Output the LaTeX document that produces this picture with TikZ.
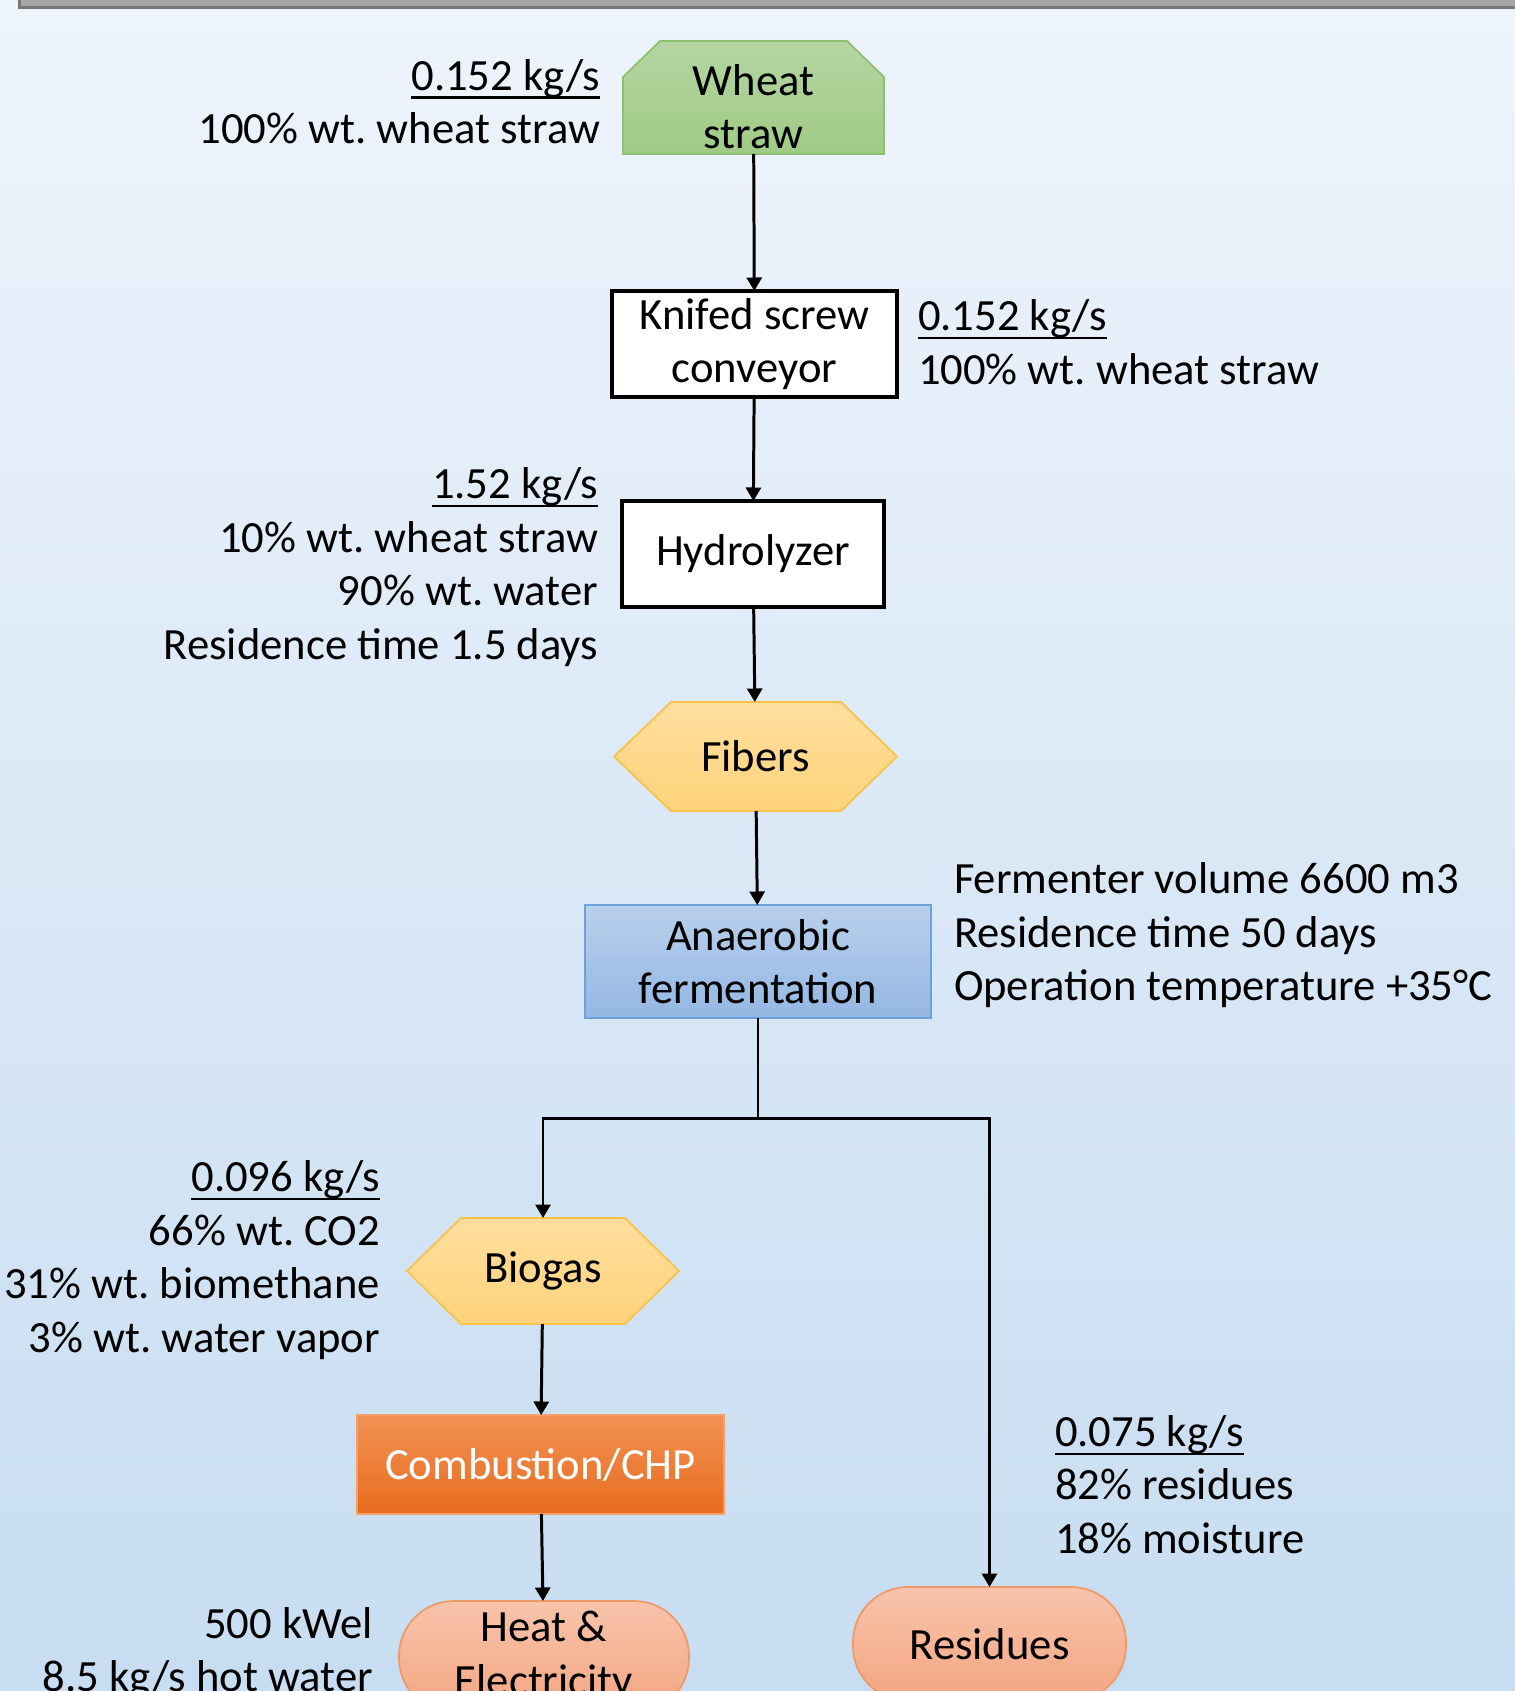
\documentclass[tikz,border=0pt]{standalone}
\usepackage{fontspec}
\setmainfont{Carlito}
\usetikzlibrary{arrows.meta,backgrounds,calc,positioning}
\definecolor{bgtop}{HTML}{EEF4FC}
\definecolor{bgbottom}{HTML}{C7DDF1}
\definecolor{bargray}{HTML}{A6A6A6}
\definecolor{bardark}{HTML}{777777}
\definecolor{greentop}{HTML}{B5D5A3}
\definecolor{greenbottom}{HTML}{9FCB85}
\definecolor{greenline}{HTML}{8CBF6E}
\definecolor{goldtop}{HTML}{FFDE9E}
\definecolor{goldbottom}{HTML}{FFD37B}
\definecolor{goldline}{HTML}{F9C349}
\definecolor{bluetop}{HTML}{B9D0EC}
\definecolor{bluebottom}{HTML}{94B7E3}
\definecolor{blueline}{HTML}{6FA0DC}
\definecolor{orangetop}{HTML}{F29154}
\definecolor{orangebottom}{HTML}{E86C1E}
\definecolor{orangeline}{HTML}{F4A06A}
\definecolor{salmontop}{HTML}{F8C4AB}
\definecolor{salmonbottom}{HTML}{F3A582}
\definecolor{salmonline}{HTML}{EE9A66}
\newcommand{\flowrate}[1]{\setbox0\hbox{#1}\rlap{\rule[-.19em]{\wd0}{.6pt}}\box0}
\frenchspacing

\begin{document}
\begin{tikzpicture}[
  >={Triangle[length=1.35mm,width=1.5mm]},
  font=\fontsize{12.7}{15.2}\selectfont,
  every node/.style={outer sep=0pt},
  ghost/.style={minimum width=#1,inner sep=0pt,align=center},
  unit/.style={draw=black,fill=white,line width=.9pt,minimum width=#1,minimum height=1.06cm,inner sep=0pt,align=center},
  ferment/.style={draw=blueline,line width=.5pt,top color=bluetop,bottom color=bluebottom,minimum width=3.46cm,minimum height=1.13cm,inner sep=0pt,align=center},
  chp/.style={draw=orangeline,line width=.5pt,top color=orangetop,bottom color=orangebottom,text=white,minimum width=3.67cm,minimum height=.99cm,inner sep=0pt},
  product/.style={draw=salmonline,line width=.5pt,top color=salmontop,bottom color=salmonbottom,rounded corners=.55cm,minimum width=#1,minimum height=1.12cm,inner sep=0pt,align=center},
  greenfill/.style={draw=greenline,line width=.5pt,top color=greentop,bottom color=greenbottom},
  goldfill/.style={draw=goldline,line width=.5pt,top color=goldtop,bottom color=goldbottom},
  flow/.style={draw=black,line width=.85pt,->},
  link/.style={draw=black,line width=.85pt},
  stream/.style={inner sep=0pt,align=right},
  streamr/.style={inner sep=0pt,align=left}
]
  \useasboundingbox (0,0) rectangle (15.15,-16.91);
  \clip (0,0) rectangle (15.15,-16.91);

  \node[ghost=2.61cm,minimum height=.95cm] (wheat) at (7.535,-1.065) {Wheat\\straw};
  \node[unit=2.85cm,below=1.37cm of wheat,xshift=.01cm] (knife) {Knifed screw\\conveyor};
  \node[unit=2.62cm,below=1.04cm of knife,xshift=-.015cm] (hydro) {Hydrolyzer};
  \node[ghost=2.83cm,minimum height=1.09cm,below=.95cm of hydro,xshift=.025cm] (fibers) {Fibers};
  \node[ferment,below=.94cm of fibers,xshift=.025cm] (ferm) {Anaerobic\\fermentation};
  \coordinate[below=1.0cm of ferm] (split);
  \node[ghost=2.72cm,minimum height=1.06cm,below=2.0cm of ferm,xshift=-2.15cm] (biogas) {Biogas};
  \node[chp,below=.91cm of biogas,xshift=-.025cm] (comb) {Combustion/CHP};
  \node[product=2.90cm,below=.87cm of comb,xshift=.035cm] (heat) {Heat \&\\Electricity};
  \node[product=2.73cm,minimum height=1.14cm,below=5.69cm of ferm,xshift=2.315cm] (residues) {Residues};

  \node[stream,left=.23cm of wheat,yshift=.05cm] (wflow) {\flowrate{0.152 kg/s}\\100\% wt. wheat straw};
  \node[streamr,right=.21cm of knife,yshift=.02cm] (kflow) {\flowrate{0.152 kg/s}\\100\% wt. wheat straw};
  \node[stream,left=.24cm of hydro,yshift=-.13cm] (hflow) {\flowrate{1.52 kg/s}\\10\% wt. wheat straw\\90\% wt. water\\Residence time 1.5 days};
  \node[streamr,right=.23cm of ferm,yshift=.26cm] (fdata) {Fermenter volume 6600 m3\\Residence time 50 days\\Operation temperature +35°C};
  \node[stream,left=.27cm of biogas,yshift=.11cm] (bflow) {\flowrate{0.096 kg/s}\\66\% wt. CO2\\31\% wt. biomethane\\3\% wt. water vapor};
  \node[streamr,anchor=west] (rflow) at ([xshift=.655cm,yshift=1.025cm]residues.north) {\flowrate{0.075 kg/s}\\82\% residues\\18\% moisture};
  \node[stream,left=.26cm of heat,yshift=.035cm] (eflow) {500 kWel\\8.5 kg/s hot water};

  \begin{scope}[on background layer]
    \shade[top color=bgtop,bottom color=bgbottom] (0,0) rectangle (15.15,-16.91);
    \draw[line width=.85pt,draw=bardark,fill=bargray] (.195,.3) rectangle (15.4,-.075);
    \path[greenfill] (wheat.south west) -- ([yshift=-.18cm]wheat.north west) -- ([xshift=.37cm,yshift=.18cm]wheat.north west)
      -- ([xshift=-.37cm,yshift=.18cm]wheat.north east) -- ([yshift=-.18cm]wheat.north east) -- (wheat.south east) -- cycle;
    \path[goldfill] (fibers.west) -- ([xshift=.57cm]fibers.north west) -- ([xshift=-.56cm]fibers.north east)
      -- (fibers.east) -- ([xshift=-.56cm]fibers.south east) -- ([xshift=.57cm]fibers.south west) -- cycle;
    \path[goldfill] (biogas.west) -- ([xshift=.54cm]biogas.north west) -- ([xshift=-.54cm]biogas.north east)
      -- (biogas.east) -- ([xshift=-.54cm]biogas.south east) -- ([xshift=.54cm]biogas.south west) -- cycle;
  \end{scope}

  \draw[flow] (wheat) -- (knife);
  \draw[flow] (knife) -- (hydro);
  \draw[flow] (hydro) -- (fibers);
  \draw[flow] (fibers) -- (ferm);
  \draw[link] (ferm) -- (split);
  \draw[flow] (split) -| (biogas);
  \draw[flow] (split) -| (residues);
  \draw[flow] (biogas) -- (comb);
  \draw[flow] (comb) -- (heat);
\end{tikzpicture}
\end{document}
